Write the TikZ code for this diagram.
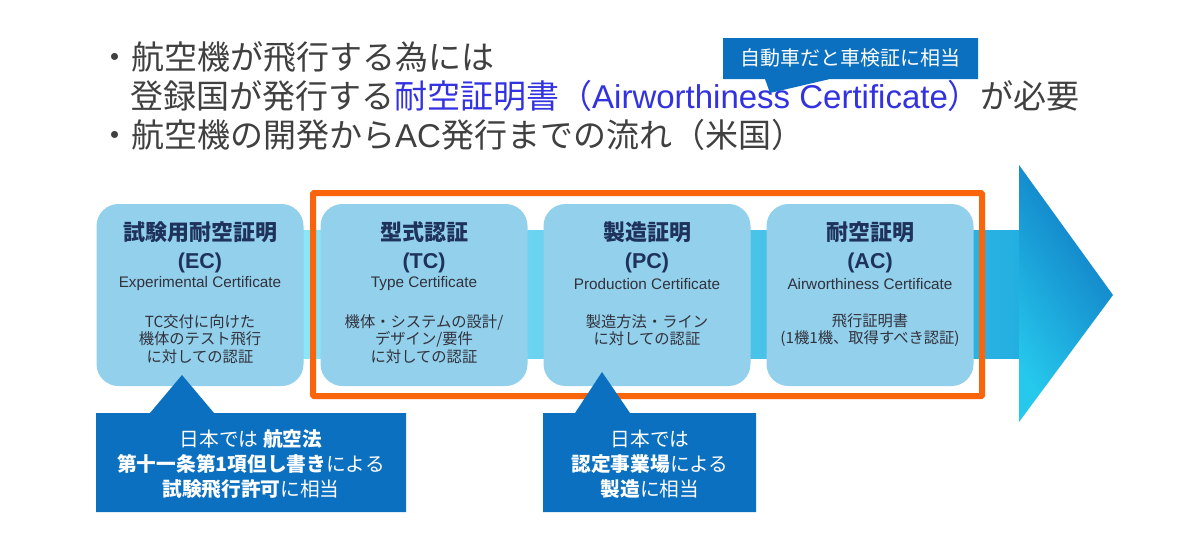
\documentclass[tikz,border=0pt]{standalone}
\usepackage{fontspec}
\setmainfont{Liberation Sans}
\newfontfamily\jp{Noto Sans CJK JP}
\definecolor{ttext}{RGB}{64,64,64}
\definecolor{tblue}{RGB}{50,50,225}
\definecolor{cblue}{RGB}{12,112,192}
\definecolor{boxfill}{RGB}{146,208,236}
\definecolor{navy}{RGB}{30,50,90}
\definecolor{dtext}{RGB}{50,50,60}
\definecolor{orng}{RGB}{250,100,10}
\definecolor{bandL}{RGB}{170,244,254}
\definecolor{bandR}{RGB}{35,175,225}
\definecolor{headL}{RGB}{38,200,236}
\definecolor{headR}{RGB}{14,118,194}
\tikzset{
  cbox/.style={fill=boxfill, rounded corners=22pt, minimum width=207pt, minimum height=182pt, inner sep=0pt},
  ttl/.style={font=\jp\bfseries\fontsize{22}{24}\selectfont, text=navy, inner sep=0pt},
  abbr/.style={font=\bfseries\fontsize{21.5}{24}\selectfont, text=navy, inner sep=0pt},
  eng/.style={font=\fontsize{15.3}{17}\selectfont, text=dtext, inner sep=0pt},
  dsc/.style={font=\jp\fontsize{15.3}{17.5}\selectfont, text=dtext, inner sep=0pt, align=center},
  head/.style={font=\jp\fontsize{33}{38}\selectfont, text=ttext, inner sep=0pt, anchor=base west},
  ctext/.style={font=\jp\fontsize{19.7}{25}\selectfont, text=white, inner sep=0pt, align=center},
}
\begin{document}
\begin{tikzpicture}[x=1pt,y=-1pt]
\useasboundingbox[fill=white] (0,0) rectangle (1200,550);
% arrow
\shade[left color=bandL, right color=bandR] (100,230) rectangle (1020,358);
\shade[left color=headL, right color=headR, shading angle=125] (1019,165) -- (1113,295) -- (1019,422) -- cycle;
% boxes
\node[cbox] (ec) at (200,295) {};
\node[cbox] (tc) at (424,295) {};
\node[cbox] (pc) at (647,295) {};
\node[cbox] (ac) at (870,295) {};
% orange frame
\draw[orng, line width=6pt, rounded corners=1pt] (313,193) rectangle (982,396);
% box texts
\node[ttl] (ect) at (200,232) {試験用耐空証明};
\node[abbr] (eca) at (200,263) {(EC)};
\node[eng] (ece) at (200,284) {Experimental Certificate};
\node[dsc] (ecd) at (200,339) {TC交付に向けた\\機体のテスト飛行\\に対しての認証};
\node[ttl] (tct) at (424,232) {型式認証};
\node[abbr] (tca) at (424,263) {(TC)};
\node[eng] (tce) at (424,284) {Type Certificate};
\node[dsc] (tcd) at (424,339) {機体・システムの設計/\\デザイン/要件\\に対しての認証};
\node[ttl] (pct) at (647,232) {製造証明};
\node[abbr] (pca) at (647,263) {(PC)};
\node[eng] (pce) at (647,284) {Production Certificate};
\node[dsc] (pcd) at (647,330) {製造方法・ライン\\に対しての認証};
\node[ttl] (act) at (870,232) {耐空証明};
\node[abbr] (aca) at (870,263) {(AC)};
\node[eng] (ace) at (870,284) {Airworthiness Certificate};
\node[dsc] (acd) at (870,330) {飛行証明書\\(1機1機、取得すべき認証)};
% callouts bottom
\fill[cblue] (96,413) -- (150,413) -- (182,375) -- (214,413) -- (406,413) -- (406,512) -- (96,512) -- cycle;
\node[ctext] (c1) at (251,464) {日本では {\bfseries 航空法}\\{\bfseries 第十一条第1項但し書き}による\\{\bfseries 試験飛行許可}に相当};
\fill[cblue] (543,413) -- (575,413) -- (602,372) -- (630,413) -- (756,413) -- (756,512) -- (543,512) -- cycle;
\node[ctext] (c2) at (650,464) {日本では\\{\bfseries 認定事業場}による\\{\bfseries 製造}に相当};
% header text
\node[head] (h1) at (98,69) {・航空機が飛行する為には};
\node[head] (h2) at (130,108) {登録国が発行する{\color{tblue}耐空証明書（{\fontspec{Liberation Sans}Airworthiness Certificate}）}が必要};
\node[head] (h3) at (98,147) {・航空機の開発から{\fontspec{Liberation Sans}AC}発行までの流れ（米国）};
% top callout
\fill[cblue] (723,38) -- (978,38) -- (978,79) -- (830,79) -- (770,93) -- (765,79) -- (723,79) -- cycle;
\node[ctext, font=\jp\fontsize{20}{22}\selectfont] (c3) at (850,58) {自動車だと車検証に相当};
\end{tikzpicture}
\end{document}
